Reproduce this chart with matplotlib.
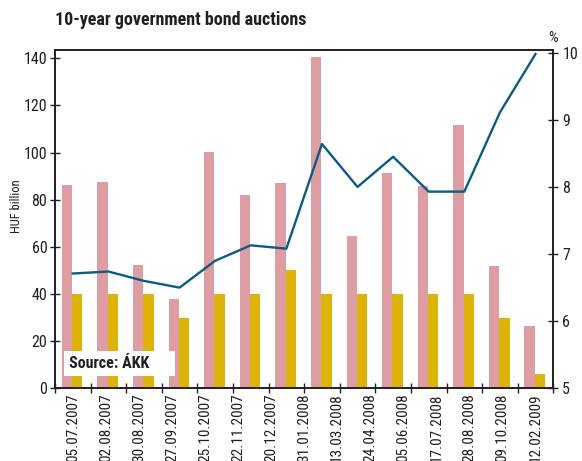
import numpy as np
import matplotlib
matplotlib.use("Agg")
import matplotlib.pyplot as plt
from matplotlib import font_manager
from matplotlib.patches import Rectangle
from matplotlib.transforms import blended_transform_factory

# Prefer a narrow sans face if one is installed
def pick_narrow():
    fonts = font_manager.fontManager.ttflist
    prefs = ['Liberation Sans Narrow', 'Roboto Condensed', 'Open Sans Condensed',
             'Noto Sans Condensed', 'DejaVu Sans Condensed']
    names = {f.name for f in fonts}
    for p in prefs:
        if p in names:
            return p, 'normal'
    for fam in ['Roboto', 'Noto Sans', 'Open Sans', 'DejaVu Sans', 'Liberation Sans']:
        for f in fonts:
            if f.name == fam and f.stretch in ('condensed', 'semi-condensed', 'extra-condensed'):
                return fam, f.stretch
    return 'DejaVu Sans', 'normal'

FAMILY, STRETCH = pick_narrow()
plt.rcParams['font.family'] = [FAMILY, 'DejaVu Sans']
plt.rcParams['font.stretch'] = STRETCH
SCALE = 1.0 if FAMILY != 'DejaVu Sans' or STRETCH != 'normal' else 0.8

# Auction dates shown along the axis
dates = ["05.07.2007", "02.08.2007", "30.08.2007", "27.09.2007", "25.10.2007",
         "22.11.2007", "20.12.2007", "31.01.2008", "13.03.2008", "24.04.2008",
         "05.06.2008", "17.07.2008", "28.08.2008", "09.10.2008", "12.02.2009"]

# Bids received and amount accepted (HUF billion), average yield (%)
bids = [86.3, 87.5, 52.3, 37.9, 100.3, 82.0, 87.1, 140.6, 64.6, 91.3, 85.8, 111.7, 51.9, 26.4]
accepted = [40, 40, 40, 30, 40, 40, 50, 40, 40, 40, 40, 40, 30, 6]
yields = [6.71, 6.74, 6.60, 6.50, 6.90, 7.13, 7.08, 8.64, 8.00, 8.45, 7.93, 7.93, 9.11, 9.98]

PINK = "#DE9DA3"
GOLD = "#DDB30A"
BLUE = "#0B5C82"
INK = "#231F20"

fig = plt.figure(figsize=(5.82, 4.61), dpi=100)
ax = fig.add_axes([55 / 582, 1 - 388.3 / 461, (553.3 - 55) / 582, (388.3 - 50) / 461])

n = len(bids)
x = np.arange(n)
w = 0.29
ax.bar(x - 0.165, bids, width=w, color=PINK, linewidth=0)
ax.bar(x + 0.125, accepted, width=w, color=GOLD, linewidth=0)

ax.set_xlim(-0.5, n - 0.5)
ax.set_ylim(0, 143.5)
ax.set_yticks([0, 20, 40, 60, 80, 100, 120, 140])
ax.tick_params(axis='y', direction='inout', length=7, width=1, colors=INK,
               labelsize=11.5 * SCALE, pad=2)

# group boundaries carry the tick marks; date labels are spread evenly below
ax.set_xticks(np.arange(n + 1) - 0.5)
ax.set_xticklabels([])
ax.tick_params(axis='x', direction='inout', length=7, width=1, colors=INK)
trans = blended_transform_factory(ax.transData, ax.transAxes)
for pos, lab in zip(np.linspace(0, n - 1, len(dates)), dates):
    ax.text(pos, -5 / 338.3, lab, transform=trans, rotation=90, ha='center', va='top',
            fontsize=11 * SCALE, color=INK)

for s in ax.spines.values():
    s.set_color(INK)
    s.set_linewidth(1.2)

ax2 = ax.twinx()
ax2.plot(x, yields, color=BLUE, linewidth=1.7)
ax2.set_ylim(5, 10.04)
ax2.set_yticks([5, 6, 7, 8, 9, 10])
ax2.tick_params(axis='y', direction='inout', length=7, width=1, colors=INK,
                labelsize=11.5 * SCALE, pad=3)
for s in ax2.spines.values():
    s.set_color(INK)
    s.set_linewidth(1.2)

# source note on a white panel over the first bars
ax.add_patch(Rectangle((9 / 498.3, 12.6 / 338.3), 111 / 498.3, 24.7 / 338.3,
                       transform=ax.transAxes, facecolor='white', edgecolor='none',
                       zorder=9))
ax.text(14 / 498.3, 25 / 338.3, "Source: ÁKK", transform=ax.transAxes,
        fontsize=11.5 * SCALE, fontweight='bold', color=INK, ha='left', va='center',
        zorder=10)

fig.text(55 / 582, 1 - 20 / 461, "10-year government bond auctions", fontsize=13 * SCALE,
         fontweight='bold', color=INK, ha='left', va='center')
fig.text(17 / 582, 1 - 206 / 461, "HUF billion", rotation=90, fontsize=9 * SCALE,
         color=INK, ha='center', va='center')
fig.text(552.7 / 582, 1 - 38 / 461, "%", fontsize=11 * SCALE, color=INK, ha='center', va='center')

fig.savefig("out.png", dpi=100)
